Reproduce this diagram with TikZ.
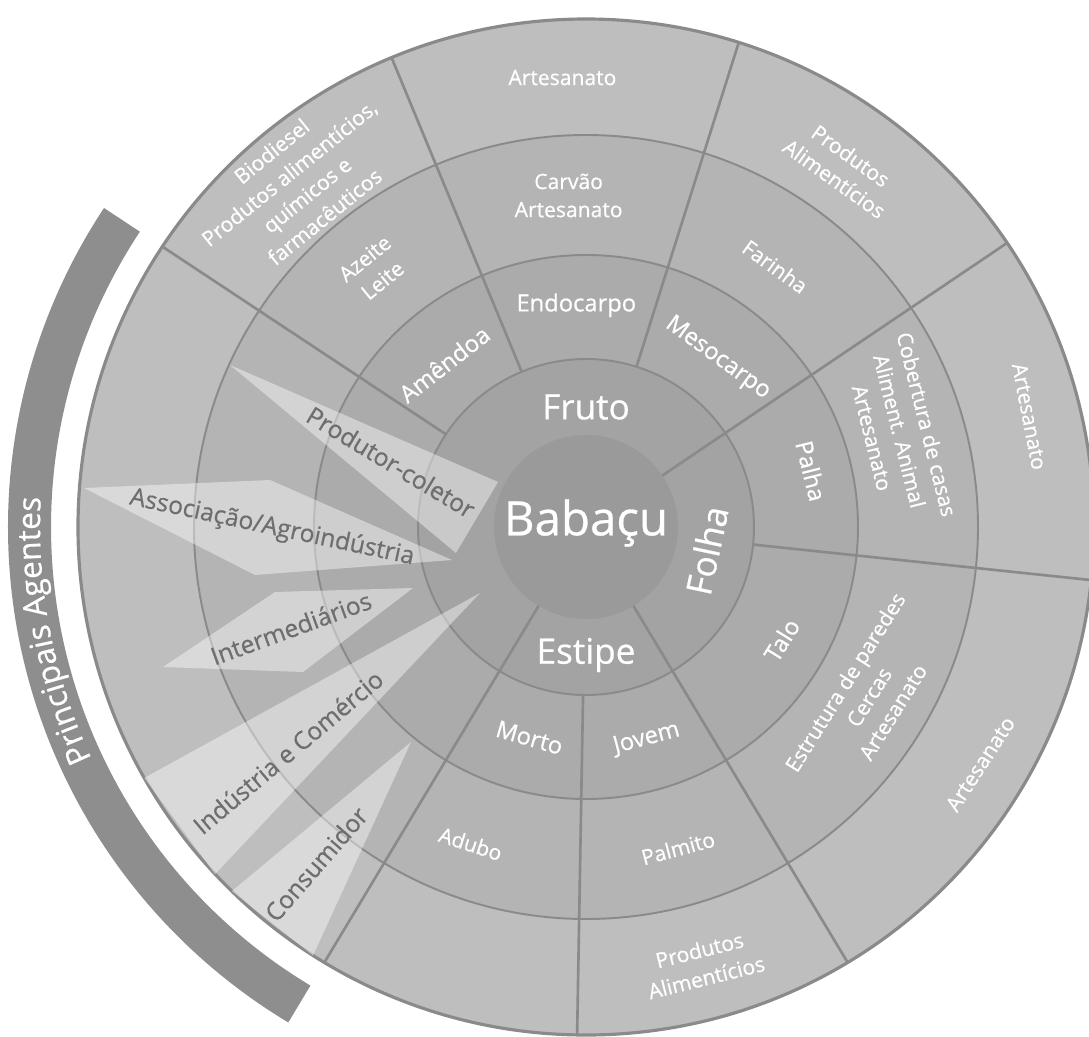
\documentclass[tikz,border=0pt]{standalone}
\usepackage{fontspec}
\setmainfont{Open Sans}[FakeBold=0.6]
\usetikzlibrary{decorations.text}
\definecolor{anelA}{HTML}{9A9A9A}
\definecolor{anelB}{HTML}{A3A3A3}
\definecolor{anelC}{HTML}{ABABAB}
\definecolor{anelD}{HTML}{B4B4B4}
\definecolor{anelE}{HTML}{BEBEBE}
\definecolor{linha}{HTML}{8A8A8A}
\definecolor{faixa}{HTML}{8E8E8E}
\definecolor{agtexto}{HTML}{6E6E6E}

\begin{document}
\begin{tikzpicture}[x=0.02cm,y=0.02cm,
  rotulo/.style={text=white,align=center,inner sep=0pt,font=\fontsize{12}{16}\selectfont},
  parte/.style={rotulo,font=\fontsize{13.5}{16}\selectfont},
  grupo/.style={rotulo,font=\fontsize{20}{22}\selectfont},
  agente/.style={fill=white,fill opacity=0.42},
  nomeagente/.style={text=agtexto,inner sep=0pt,font=\fontsize{14}{16}\selectfont}]
  \useasboundingbox (-586,-509) rectangle (503,527);
  \fill[anelE] (0,0) circle (508);
  \fill[anelD] (0,0) circle (392);
  \fill[anelC] (0,0) circle (272);
  \fill[anelB] (0,0) circle (168);
  \fill[anelA] (0,0) circle (92);
  \foreach \r in {168,272,392}
    \draw[linha,line width=1.1pt] (0,0) circle (\r);
  \draw[linha,line width=1.8pt] (0,0) circle (508);
  \foreach \a/\ri in {34/92,72.5/168,112.5/168,146.5/168,239/92,269/168,301/92,354/168}
    \draw[linha,line width=1.5pt] (\a:\ri) -- (\a:508);

  \fill[agente] (-356,162) -- (-88,45) -- (-130,-26) -- cycle;
  \fill[agente] (-502,39) -- (-316,47) -- (-134,-33) -- (-331,-48) -- cycle;
  \fill[agente] (-311,-65) -- (-173,-61) -- (-283,-145) -- (-423,-140) -- cycle;
  \fill[agente] (-106,-66) -- (209.6:508) -- (223.1:508) -- cycle;
  \fill[agente] (-175,-215) -- (225.8:508) -- (237.5:508) -- cycle;

  \node[rotulo,font=\fontsize{27}{30}\selectfont] (babacu) at (0,4) {Babaçu};
  \node[grupo] (fruto) at (90:120) {Fruto};
  \node[grupo] (estipe) at (270:128) {Estipe};
  \node[grupo,rotate=78] (folha) at (-11:123) {Folha};

  \node[parte] (endocarpo) at (92.5:222) {Endocarpo};
  \node[parte,rotate=-36] (mesocarpo) at (52:214) {Mesocarpo};
  \node[parte,rotate=38] (amendoa) at (131:216) {Amêndoa};
  \node[parte,rotate=-76] (palha) at (14:232) {Palha};
  \node[parte,rotate=58] (talo) at (-30:226) {Talo};
  \node[parte,rotate=-16] (morto) at (255:218) {Morto};
  \node[parte,rotate=15] (jovem) at (286:220) {Jovem};

  \node[rotulo] (carvao) at (93:332) {Carvão\\Artesanato};
  \node[rotulo,rotate=39] (azeite) at (129.5:334) {Azeite\\Leite};
  \node[rotulo,rotate=-36] (farinha) at (54:322) {Farinha};
  \node[rotulo,rotate=-76] (cobertura) at (17:328) {Cobertura de casas\\Aliment. Animal\\Artesanato};
  \node[rotulo,rotate=58] (estrutura) at (-31:330) {Estrutura de paredes\\Cercas\\Artesanato};
  \node[rotulo,rotate=-18] (adubo) at (250:337) {Adubo};
  \node[rotulo,rotate=15] (palmito) at (286:334) {Palmito};

  \node[rotulo] (artesanatoA) at (93:450) {Artesanato};
  \node[rotulo,rotate=39] (biodiesel) at (130:448) {Biodiesel\\Produtos alimentícios,\\químicos e\\farmacêuticos};
  \node[rotulo,rotate=-35.5] (produtosA) at (54.5:442) {Produtos\\Alimentícios};
  \node[rotulo,rotate=-79] (artesanatoB) at (14:457) {Artesanato};
  \node[rotulo,rotate=57] (artesanatoC) at (-31:460) {Artesanato};
  \node[rotulo,rotate=14] (produtosB) at (285:452) {Produtos\\Alimentícios};

  \node[nomeagente,rotate=-31] (produtor) at (-195,65) {Produtor-coletor};
  \node[nomeagente,rotate=-12] (associacao) at (-314,-1) {Associação/Agroindústria};
  \node[nomeagente,rotate=20] (intermediarios) at (-295,-101) {Intermediários};
  \node[nomeagente,rotate=40] (industria) at (-298,-225) {Indústria e Comércio};
  \node[nomeagente,rotate=49] (consumidor) at (-270,-337) {Consumidor};

  \fill[faixa] (146.5:535) arc[start angle=146.5,end angle=239,radius=535]
    -- (239:578) arc[start angle=239,end angle=146.5,radius=578] -- cycle;
  \path[decorate,decoration={text along path,text align=center,
      text={|\fontsize{18}{18}\selectfont\color{white}|Principais Agentes}}]
    (212:546) arc[start angle=212,end angle=170,radius=546];
\end{tikzpicture}
\end{document}
